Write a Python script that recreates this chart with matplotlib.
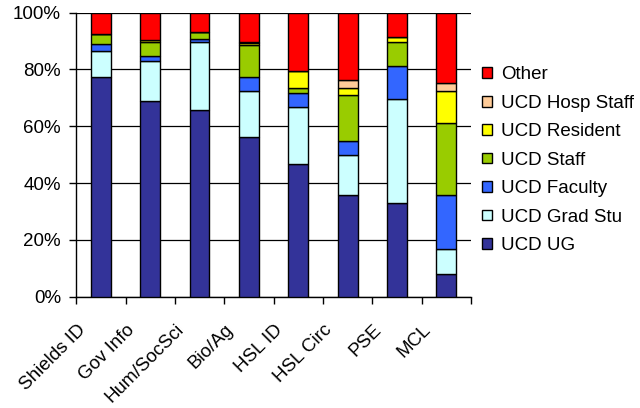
import numpy as np
import matplotlib
matplotlib.use("Agg")
import matplotlib.pyplot as plt
import matplotlib.transforms as mtransforms

#--data: share of users by group at each service point (percent)--#
sites = ["Shields ID", "Gov Info", "Hum/SocSci", "Bio/Ag", "HSL ID", "HSL Circ", "PSE", "MCL"]
ucd_ug = [77.5, 69.0, 65.6, 56.1, 46.6, 35.8, 33.1, 8.0]
ucd_grad = [9.0, 14.0, 24.2, 16.4, 20.2, 14.1, 36.5, 8.7]
ucd_faculty = [2.4, 1.9, 0.9, 4.9, 4.9, 4.9, 11.7, 19.1]
ucd_staff = [3.7, 4.9, 2.5, 11.2, 1.7, 16.3, 8.5, 25.4]
ucd_resident = [0.0, 0.7, 0.0, 0.8, 6.2, 2.4, 1.7, 11.3]
ucd_hosp = [0.0, 0.0, 0.0, 0.3, 0.0, 2.8, 0.0, 2.9]
other = [7.4, 9.5, 6.8, 10.3, 20.4, 23.7, 8.5, 24.6]

series = [
    ("UCD UG", ucd_ug, "#333399"),
    ("UCD Grad Stu", ucd_grad, "#CCFFFF"),
    ("UCD Faculty", ucd_faculty, "#3366FF"),
    ("UCD Staff", ucd_staff, "#99CC00"),
    ("UCD Resident", ucd_resident, "#FFFF00"),
    ("UCD Hosp Staff", ucd_hosp, "#FFCC99"),
    ("Other", other, "#FF0000"),
]

plt.rcParams["font.family"] = ["Liberation Sans", "DejaVu Sans"]
plt.rcParams["font.size"] = 13.5

fig = plt.figure(figsize=(6.4, 4.08), dpi=100)
ax = fig.add_axes([0.119, 0.273, 0.617, 0.696])

x = np.arange(len(sites))
bottom = np.zeros(len(sites))
handles = []
for name, vals, col in series:
    vals = np.array(vals)
    b = ax.bar(x, vals, width=0.4, bottom=bottom, color=col, edgecolor="black",
               linewidth=1.0, label=name, zorder=3)
    bottom += vals
    handles.append(b)

#--axes styling, excel look--#
ax.set_xlim(-0.5, len(sites) - 0.5)
ax.set_ylim(0, 100)
ax.set_yticks(np.arange(0, 101, 20))
ax.set_yticklabels([f"{v}%" for v in range(0, 101, 20)])
ax.yaxis.grid(True, color="black", linewidth=0.9, zorder=0)
for s in ["top", "right"]:
    ax.spines[s].set_visible(False)
ax.spines["left"].set_linewidth(1.0)
ax.spines["bottom"].set_linewidth(1.0)
ax.tick_params(axis="y", length=5, width=1.0, pad=6)

# tick marks sit between categories, labels sit under the bars
ax.set_xticks(np.arange(-0.5, len(sites)), minor=True)
ax.tick_params(axis="x", which="minor", length=5, width=1.0)
ax.set_xticks(x)
ax.set_xticklabels(sites, rotation=45, ha="right", va="center", rotation_mode="anchor")
ax.tick_params(axis="x", which="major", length=0, pad=22)
offset = mtransforms.ScaledTranslation(-13 / 72, 0, fig.dpi_scale_trans)
for lab in ax.get_xticklabels():
    lab.set_transform(lab.get_transform() + offset)

leg = ax.legend(handles[::-1], [s[0] for s in series][::-1], loc="center left",
                bbox_to_anchor=(1.01, 0.48), frameon=False, handlelength=0.5,
                handleheight=0.5, handletextpad=0.5, labelspacing=0.61,
                borderaxespad=0)

fig.savefig("out.png", dpi=100)
